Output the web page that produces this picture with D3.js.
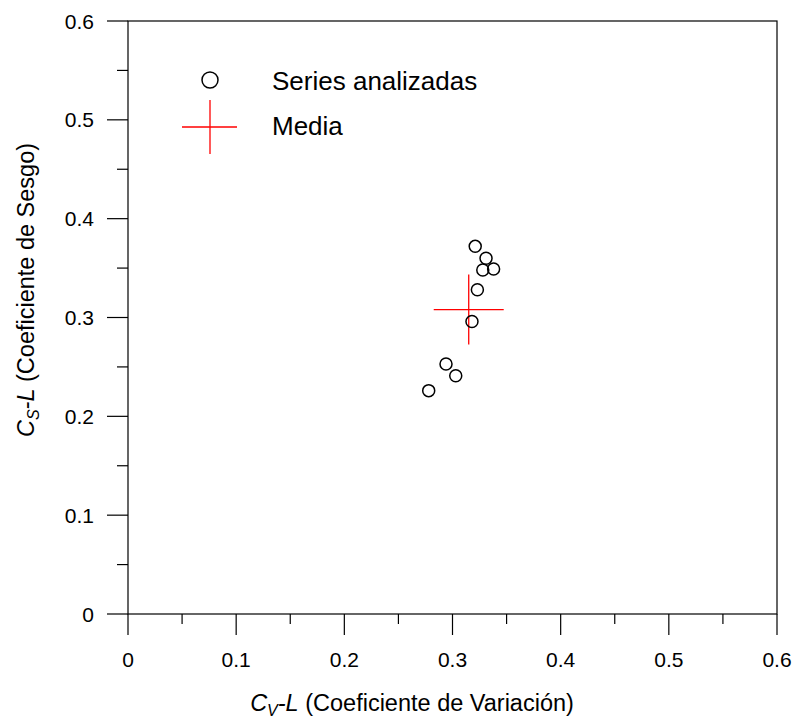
<!DOCTYPE html>
<html>
<head>
<meta charset="utf-8">
<script src="https://cdn.jsdelivr.net/npm/d3@7"></script>
<style>
  body { margin: 0; background: #fff; }
  svg text { font-family: "Liberation Sans", Arial, sans-serif; fill: #000; }
</style>
</head>
<body>
<svg id="chart" width="796" height="725"></svg>
<script>
// data
const cvValues = [0.321, 0.331, 0.328, 0.338, 0.323, 0.318, 0.294, 0.303, 0.278];
const csValues = [0.372, 0.360, 0.348, 0.349, 0.328, 0.296, 0.253, 0.241, 0.226];
const meanPoint = [0.315, 0.308];
const majorTicks = [0, 0.1, 0.2, 0.3, 0.4, 0.5, 0.6];
const minorTicks = [0.05, 0.15, 0.25, 0.35, 0.45, 0.55];
const legendLabels = ["Series analizadas", "Media"];

const svg = d3.select("#chart");
const plotLeft = 128, plotRight = 777, plotTop = 21, plotBottom = 614;

const x = d3.scaleLinear().domain([0, 0.6]).range([plotLeft, plotRight]);
const y = d3.scaleLinear().domain([0, 0.6]).range([plotBottom, plotTop]);
const fmt = d => d === 0 ? "0" : d3.format(".1f")(d);

// frame
svg.append("rect")
  .attr("x", plotLeft).attr("y", plotTop)
  .attr("width", plotRight - plotLeft).attr("height", plotBottom - plotTop)
  .attr("fill", "none").attr("stroke", "#000").attr("stroke-width", 1.2);

// x axis ticks (outward)
const xg = svg.append("g").attr("transform", `translate(0,${plotBottom})`);
xg.selectAll(".maj").data(majorTicks).enter().append("line")
  .attr("x1", d => x(d)).attr("x2", d => x(d))
  .attr("y1", 0).attr("y2", 21).attr("stroke", "#000").attr("stroke-width", 1.2);
xg.selectAll(".min").data(minorTicks).enter().append("line")
  .attr("x1", d => x(d)).attr("x2", d => x(d))
  .attr("y1", 0).attr("y2", 10).attr("stroke", "#000").attr("stroke-width", 1.2);
xg.selectAll("text").data(majorTicks).enter().append("text")
  .attr("x", d => x(d)).attr("y", 53)
  .attr("text-anchor", "middle").attr("font-size", 21)
  .text(fmt);

// y axis ticks (outward)
const yg = svg.append("g").attr("transform", `translate(${plotLeft},0)`);
yg.selectAll(".maj").data(majorTicks).enter().append("line")
  .attr("y1", d => y(d)).attr("y2", d => y(d))
  .attr("x1", 0).attr("x2", -21).attr("stroke", "#000").attr("stroke-width", 1.2);
yg.selectAll(".min").data(minorTicks).enter().append("line")
  .attr("y1", d => y(d)).attr("y2", d => y(d))
  .attr("x1", 0).attr("x2", -11).attr("stroke", "#000").attr("stroke-width", 1.2);
yg.selectAll("text").data(majorTicks).enter().append("text")
  .attr("x", -34).attr("y", d => y(d))
  .attr("text-anchor", "end").attr("dominant-baseline", "central").attr("font-size", 21)
  .text(fmt);

// axis titles
const xt = svg.append("text")
  .attr("x", 412).attr("y", 711)
  .attr("text-anchor", "middle").attr("font-size", 23.5);
xt.append("tspan").attr("font-style", "italic").text("C");
xt.append("tspan").attr("font-style", "italic").attr("font-size", 16).attr("dy", 5).text("V");
xt.append("tspan").attr("dy", -5).attr("font-style", "italic").text("-L");
xt.append("tspan").text(" (Coeficiente de Variación)");

const yt = svg.append("text")
  .attr("transform", "translate(34,290) rotate(-90)")
  .attr("text-anchor", "middle").attr("font-size", 23.5);
yt.append("tspan").attr("font-style", "italic").text("C");
yt.append("tspan").attr("font-style", "italic").attr("font-size", 16).attr("dy", 5).text("S");
yt.append("tspan").attr("dy", -5).attr("font-style", "italic").text("-L");
yt.append("tspan").text(" (Coeficiente de Sesgo)");

// mean cross
const crossHalf = 35;
const mx = x(meanPoint[0]), my = y(meanPoint[1]);
svg.append("line").attr("x1", mx - crossHalf).attr("x2", mx + crossHalf)
  .attr("y1", my).attr("y2", my).attr("stroke", "#f00").attr("stroke-width", 1.3);
svg.append("line").attr("x1", mx).attr("x2", mx)
  .attr("y1", my - crossHalf).attr("y2", my + crossHalf).attr("stroke", "#f00").attr("stroke-width", 1.3);

// points
svg.selectAll(".pt").data(cvValues).enter().append("circle")
  .attr("cx", d => x(d)).attr("cy", (d, i) => y(csValues[i]))
  .attr("r", 6).attr("fill", "none").attr("stroke", "#000").attr("stroke-width", 1.5);

// legend
svg.append("circle").attr("cx", 210).attr("cy", 80).attr("r", 8)
  .attr("fill", "none").attr("stroke", "#000").attr("stroke-width", 1.5);
svg.append("line").attr("x1", 182).attr("x2", 237).attr("y1", 127).attr("y2", 127)
  .attr("stroke", "#f00").attr("stroke-width", 1.3);
svg.append("line").attr("x1", 210).attr("x2", 210).attr("y1", 100).attr("y2", 154)
  .attr("stroke", "#f00").attr("stroke-width", 1.3);
svg.selectAll(".leg").data(legendLabels).enter().append("text")
  .attr("x", 272).attr("y", (d, i) => 80.5 + i * 45.5)
  .attr("dominant-baseline", "central").attr("font-size", 26)
  .text(d => d);
</script>
</body>
</html>
